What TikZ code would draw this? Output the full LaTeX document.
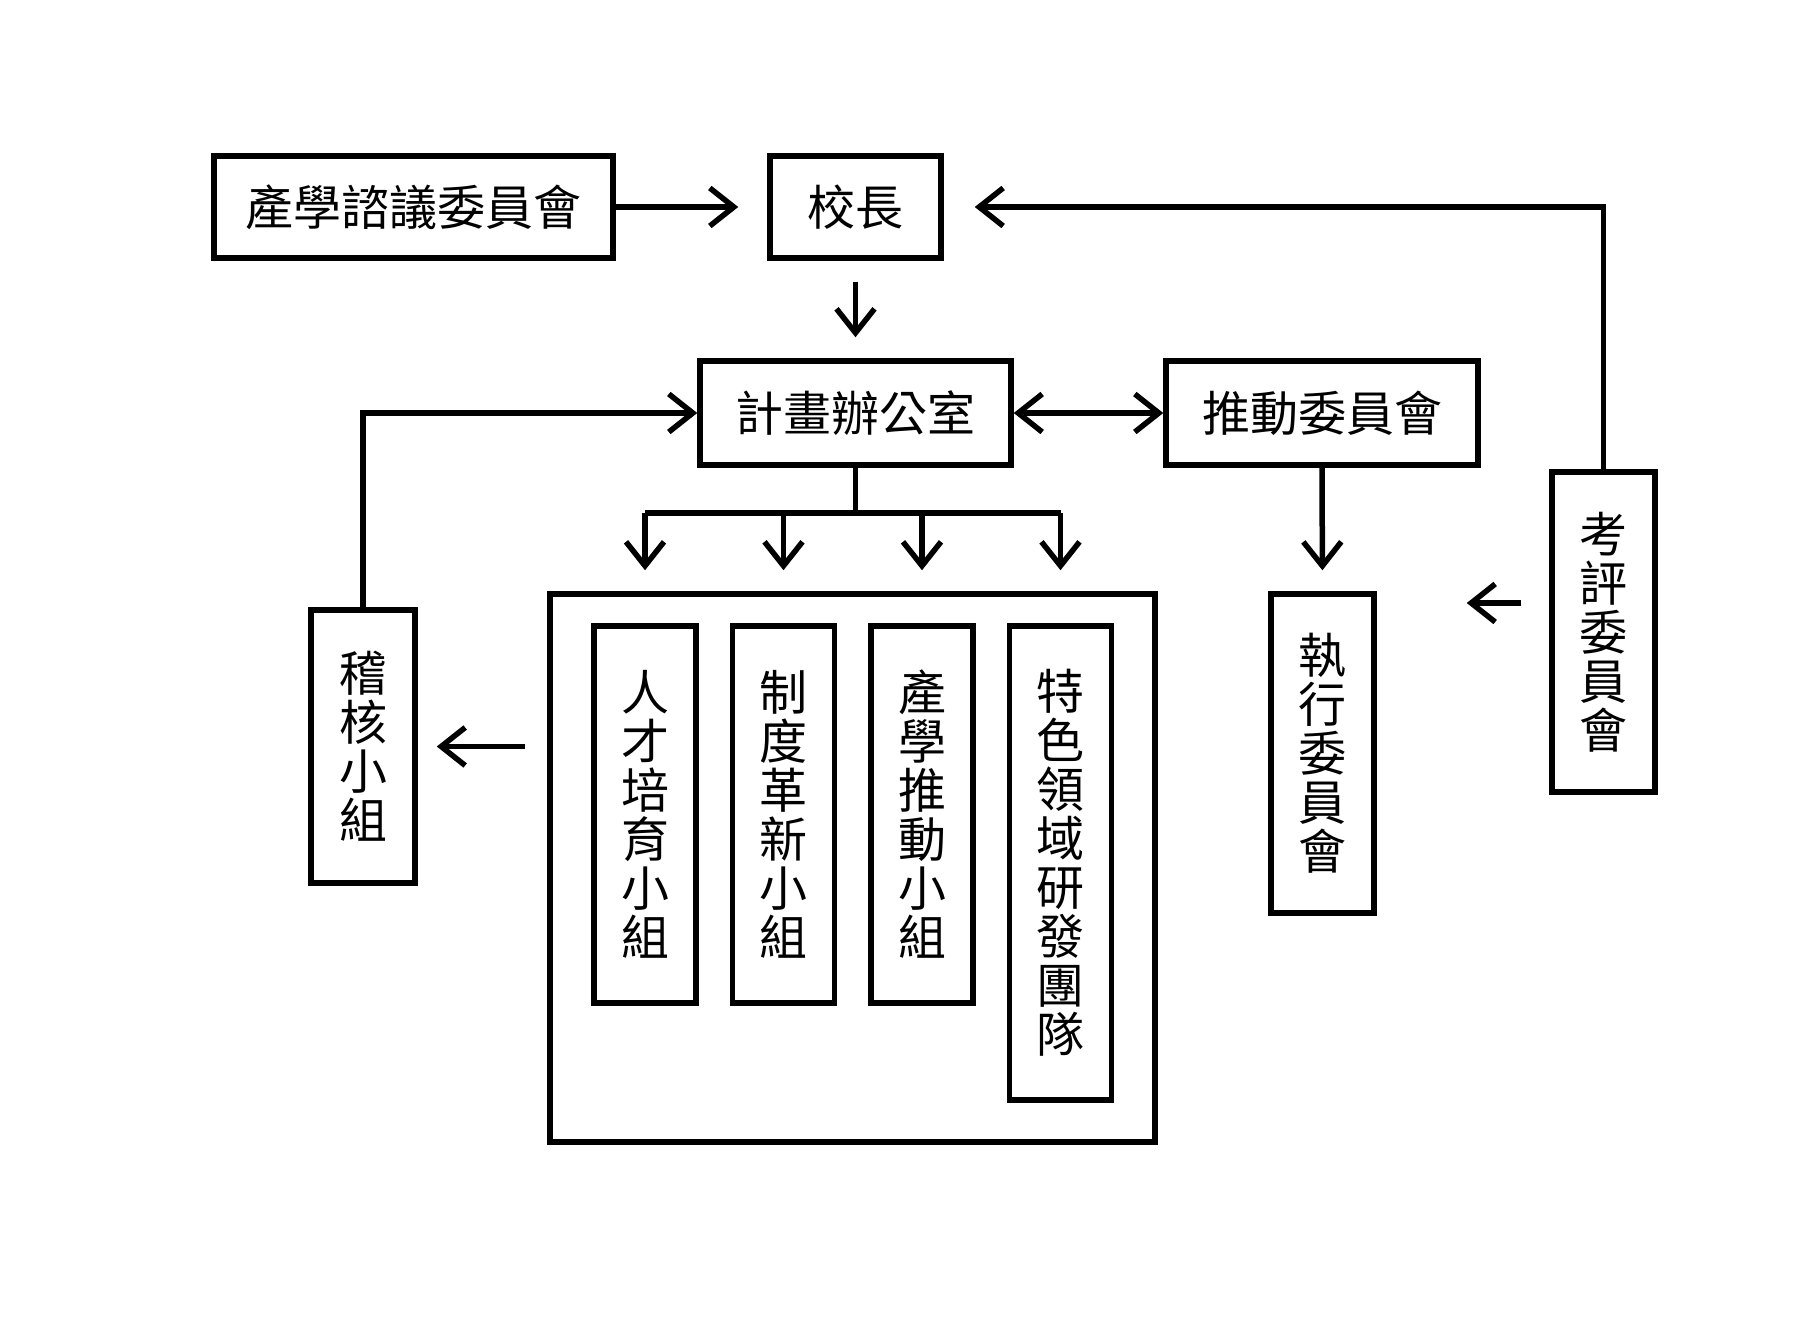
\documentclass[tikz,border=0pt]{standalone}
\usepackage{fontspec}
\newfontfamily\cjk{Noto Sans CJK TC}
\usetikzlibrary{arrows.meta}
\begin{document}
\begin{tikzpicture}[x=1pt,y=-1pt,
  >={Straight Barb[length=24pt,width=38pt]},
  box/.style={draw, line width=5.5pt, inner sep=0pt, align=center,
    font=\cjk\fontsize{48}{49}\selectfont},
  ln/.style={line width=5.5pt},
  arr/.style={line width=5.5pt, ->}]
\fill[white] (0,0) rectangle (1808,1325);
\useasboundingbox (0,0) rectangle (1808,1325);

\node[box, minimum width=399pt, minimum height=102pt] (cyw) at (413.5,207) {產學諮議委員會};
\node[box, minimum width=171pt, minimum height=102pt] (xz) at (855.5,207) {校長};
\node[box, minimum width=311pt, minimum height=104pt] (jh) at (855.5,413) {計畫辦公室};
\node[box, minimum width=312pt, minimum height=104pt] (td) at (1322,413) {推動委員會};
\node[box, minimum width=605pt, minimum height=548pt] (big) at (852.5,868) {};
\node[box, minimum width=102pt, minimum height=377pt] (g1) at (645,814.5) {人\\才\\培\\育\\小\\組};
\node[box, minimum width=102pt, minimum height=377pt] (g2) at (783.5,814.5) {制\\度\\革\\新\\小\\組};
\node[box, minimum width=102pt, minimum height=377pt] (g3) at (922,814.5) {產\\學\\推\\動\\小\\組};
\node[box, minimum width=102pt, minimum height=474pt] (g4) at (1060.5,863) {特\\色\\領\\域\\研\\發\\團\\隊};
\node[box, minimum width=104pt, minimum height=273pt] (jihe) at (363,746.5) {稽\\核\\小\\組};
\node[box, minimum width=103pt, minimum height=319pt] (zx) at (1322.5,753.5) {執\\行\\委\\員\\會};
\node[box, minimum width=103pt, minimum height=320pt] (kp) at (1603.5,632) {考\\評\\委\\員\\會};

\draw[arr, shorten >=29pt] (cyw.east) -- (xz.west);
\draw[arr, shorten >=31pt] (kp.north) |- (xz.east);
\draw[arr, shorten <=21pt, shorten >=21pt] (xz.south) -- (jh.north);
\draw[line width=5.5pt, <->] (jh.east) -- (td.west);
\draw[arr] (jihe.north) |- (jh.west);

\draw[ln] (jh.south) -- ++(0,45) coordinate (fan);
\draw[ln] (g1 |- fan) -- (g4 |- fan);
\foreach \g in {g1,g2,g3,g4}
  \draw[arr, shorten >=21pt] (\g |- fan) -- (\g.north |- big.north);

\draw[arr, shorten >=21pt] (td.south) -- (zx.north);
\draw[arr, shorten <=22pt, shorten >=19pt] (big.west |- jihe.east) -- (jihe.east);
\coordinate (kpa) at ([yshift=29pt]kp.west);
\draw[arr, shorten <=28pt, shorten >=90pt] (kpa) -- (zx.east |- kpa);
\end{tikzpicture}
\end{document}
